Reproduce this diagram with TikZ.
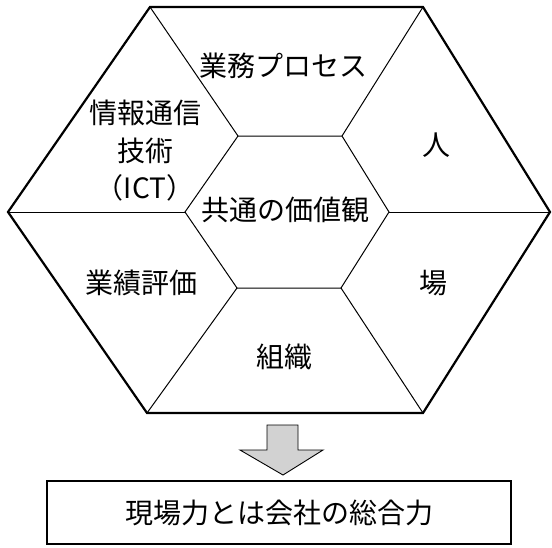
\documentclass[tikz,border=0pt]{standalone}
\usepackage{fontspec}
\newfontfamily\jp{Noto Sans CJK JP}
\begin{document}
\begin{tikzpicture}[x=1pt,y=-1pt,
  lbl/.style={font=\jp\fontsize{28}{37.5}\selectfont, align=center, inner sep=0pt},
  outer/.style={line width=2.2pt, line join=miter},
  inner/.style={line width=1pt},
  blockarrow/.style={draw=black, line width=0.9pt, fill=gray!35, line join=miter}]
\useasboundingbox (0,0) rectangle (552,547);
% outer hexagon
\coordinate (O1) at (150,7);
\coordinate (O2) at (423,7);
\coordinate (O3) at (550,212);
\coordinate (O4) at (423,413);
\coordinate (O5) at (147,413);
\coordinate (O6) at (8,212);
% inner hexagon
\coordinate (I1) at (238,136);
\coordinate (I2) at (342,136);
\coordinate (I3) at (389,212);
\coordinate (I4) at (341,288);
\coordinate (I5) at (237,288);
\coordinate (I6) at (185,212);
% spokes
\draw[inner] (I1) -- (O1);
\draw[inner] (I2) -- (O2);
\draw[inner] (I3) -- (O3);
\draw[inner] (I4) -- (O4);
\draw[inner] (I5) -- (O5);
\draw[inner] (I6) -- (O6);
\draw[inner] (I1) -- (I2) -- (I3) -- (I4) -- (I5) -- (I6) -- cycle;
\draw[outer] (O1) -- (O2) -- (O3) -- (O4) -- (O5) -- (O6) -- cycle;
% labels
\node[lbl] (proc) at (283,66) {業務プロセス};
\node[lbl] (ict) at (145,151) {情報通信\\技術\\（ICT）};
\node[lbl] (hito) at (436,145) {人};
\node[lbl] (core) at (285,210) {共通の価値観};
\node[lbl] (eval) at (141,283) {業績評価};
\node[lbl] (ba) at (433,283) {場};
\node[lbl] (org) at (284,357) {組織};
% block arrow
\coordinate (A1) at (267,425);
\coordinate (A2) at (298,425);
\coordinate (A3) at (298,450);
\coordinate (A4) at (323,450);
\coordinate (A5) at (283,475);
\coordinate (A6) at (240,450);
\coordinate (A7) at (267,450);
\draw[blockarrow] (A1) -- (A2) -- (A3) -- (A4) -- (A5) -- (A6) -- (A7) -- cycle;
% bottom box
\node[draw, line width=1.1pt, minimum width=464pt, minimum height=63pt, inner sep=0pt, font=\jp\fontsize{28}{30}\selectfont] (res) at (279,512.5) {現場力とは会社の総合力};
\end{tikzpicture}
\end{document}
